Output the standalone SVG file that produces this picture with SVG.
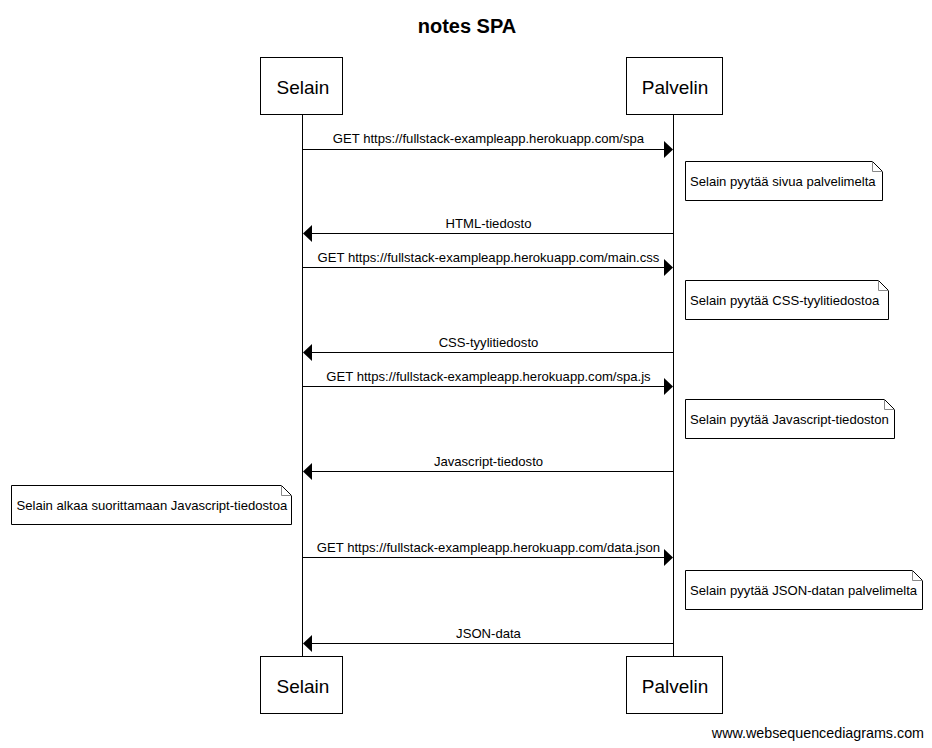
<svg xmlns="http://www.w3.org/2000/svg" width="932" height="748" viewBox="0 0 932 748">
<style>
text{font-family:"Liberation Sans",Arial,sans-serif;fill:#000}
.title{font-size:20px;font-weight:bold;text-anchor:middle}
.actor rect{fill:#fff;stroke:#000;stroke-width:1}
.actor text{font-size:19px;text-anchor:middle}
.life{stroke:#000;stroke-width:1}
.msg line{stroke:#000;stroke-width:1}
.msg polygon{fill:#000}
.msg text{font-size:13.1px;text-anchor:middle}
.note path.body{fill:#fff;stroke:#000;stroke-width:1}
.note path.fold{fill:none;stroke:#888;stroke-width:1}
.note text{font-size:13.1px}
.foot{font-size:14.3px;text-anchor:end}
</style>
<rect width="932" height="748" fill="#fff"/>
<text class="title" x="467" y="33">notes SPA</text>
<g id="lifelines">
<line class="life" x1="302.5" y1="114" x2="302.5" y2="656"/>
<line class="life" x1="673.5" y1="114" x2="673.5" y2="656"/>
</g>
<g id="selain-top" class="actor"><rect x="260.5" y="57.5" width="82" height="57"/><text x="303" y="94">Selain</text></g>
<g id="palvelin-top" class="actor"><rect x="626.5" y="57.5" width="96" height="57"/><text x="675" y="94">Palvelin</text></g>
<g id="selain-bottom" class="actor"><rect x="260.5" y="656.5" width="82" height="57"/><text x="303" y="693">Selain</text></g>
<g id="palvelin-bottom" class="actor"><rect x="626.5" y="656.5" width="96" height="57"/><text x="675" y="693">Palvelin</text></g>
<g id="connectors" class="msg">
<line x1="302.5" y1="149.5" x2="666" y2="149.5"/><polygon points="673,149.5 664,141 664,158"/><text x="488.5" y="143">GET https://fullstack-exampleapp.herokuapp.com/spa</text>
<line x1="673.5" y1="233.5" x2="310" y2="233.5"/><polygon points="303,233.5 312,225 312,242"/><text x="488.5" y="228">HTML-tiedosto</text>
<line x1="302.5" y1="267.5" x2="666" y2="267.5"/><polygon points="673,267.5 664,259 664,276"/><text x="488.5" y="262">GET https://fullstack-exampleapp.herokuapp.com/main.css</text>
<line x1="673.5" y1="352.5" x2="310" y2="352.5"/><polygon points="303,352.5 312,344 312,361"/><text x="488.5" y="347">CSS-tyylitiedosto</text>
<line x1="302.5" y1="386.5" x2="666" y2="386.5"/><polygon points="673,386.5 664,378 664,395"/><text x="488.5" y="381">GET https://fullstack-exampleapp.herokuapp.com/spa.js</text>
<line x1="673.5" y1="471.5" x2="310" y2="471.5"/><polygon points="303,471.5 312,463 312,480"/><text x="488.5" y="466">Javascript-tiedosto</text>
<line x1="302.5" y1="557.5" x2="666" y2="557.5"/><polygon points="673,557.5 664,549 664,566"/><text x="488.5" y="552">GET https://fullstack-exampleapp.herokuapp.com/data.json</text>
<line x1="673.5" y1="643.5" x2="310" y2="643.5"/><polygon points="303,643.5 312,635 312,652"/><text x="488.5" y="638">JSON-data</text>
</g>
<g id="note1" class="note"><path class="body" d="M685.5,161.5 H872.5 L882.5,171.5 V200.5 H685.5 Z"/><path class="fold" d="M872.5,161.5 V171.5 H882.5"/><text x="690" y="185.5">Selain pyytää sivua palvelimelta</text></g>
<g id="note2" class="note"><path class="body" d="M685.5,280.5 H878.5 L888.5,290.5 V319.5 H685.5 Z"/><path class="fold" d="M878.5,280.5 V290.5 H888.5"/><text x="690" y="304.5">Selain pyytää CSS-tyylitiedostoa</text></g>
<g id="note3" class="note"><path class="body" d="M685.5,399.5 H884.5 L894.5,409.5 V438.5 H685.5 Z"/><path class="fold" d="M884.5,399.5 V409.5 H894.5"/><text x="690" y="423.5">Selain pyytää Javascript-tiedoston</text></g>
<g id="note4" class="note"><path class="body" d="M11.5,485.5 H281.5 L291.5,495.5 V524.5 H11.5 Z"/><path class="fold" d="M281.5,485.5 V495.5 H291.5"/><text x="16.5" y="509.5">Selain alkaa suorittamaan Javascript-tiedostoa</text></g>
<g id="note5" class="note"><path class="body" d="M685.5,570.5 H912.5 L922.5,580.5 V609.5 H685.5 Z"/><path class="fold" d="M912.5,570.5 V580.5 H922.5"/><text x="690" y="594.5">Selain pyytää JSON-datan palvelimelta</text></g>
<text class="foot" x="924" y="738">www.websequencediagrams.com</text>
</svg>
